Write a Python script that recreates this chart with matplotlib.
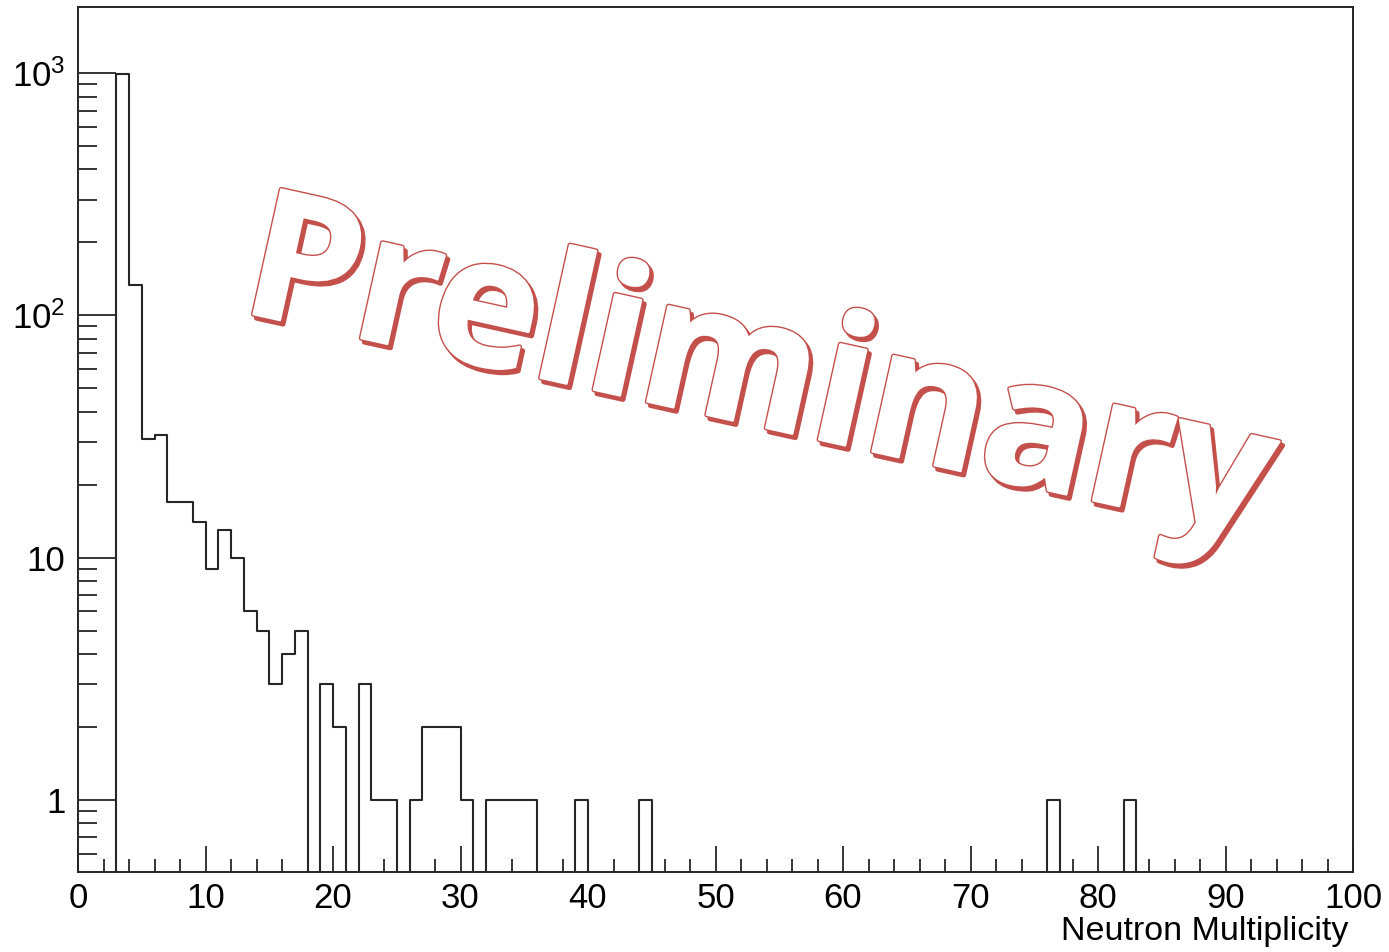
import numpy as np
import matplotlib
matplotlib.use("Agg")
import matplotlib.pyplot as plt
import matplotlib.patheffects as pe
from matplotlib.ticker import FixedLocator, NullFormatter

# neutron multiplicity histogram, unit-width bins 0..100
bin_edges = np.arange(0, 101)
counts = np.zeros(100)
filled_bins = [3, 4, 5, 6, 7, 8, 9, 10, 11, 12, 13, 14, 15, 16, 17,
               19, 20, 22, 23, 24, 26, 27, 28, 29, 30,
               32, 33, 34, 35, 39, 44, 76, 82]
filled_counts = [990, 133, 31, 32, 17, 17, 14, 9, 13, 10, 6, 5, 3, 4, 5,
                 3, 2, 3, 1, 1, 1, 2, 2, 2, 1,
                 1, 1, 1, 1, 1, 1, 1, 1]
counts[filled_bins] = filled_counts

x_major = [0, 10, 20, 30, 40, 50, 60, 70, 80, 90, 100]
x_labels = ["0", "10", "20", "30", "40", "50", "60", "70", "80", "90", "100"]
y_major = [1, 10, 100, 1000]
y_labels = ["1", "10", r"$\mathregular{10^{2}}$", r"$\mathregular{10^{3}}$"]

plt.rcParams["font.family"] = ["Liberation Sans", "DejaVu Sans"]
plt.rcParams["mathtext.fontset"] = "custom"
plt.rcParams["mathtext.rm"] = "Liberation Sans"

line_col = "#262626"
wm_col = "#c4504c"

fig = plt.figure(figsize=(13.89, 9.52), dpi=100)
ax = fig.add_axes([78 / 1389, 80 / 952, 1275 / 1389, 865 / 952])

# zero bins pushed below the visible range so the outline drops to the axis
step_y = np.where(counts > 0, counts, 1e-3)
ax.step(bin_edges, np.append(step_y, step_y[-1]), where="post",
        color=line_col, lw=1.5)

ax.set_yscale("log")
ax.set_xlim(0, 100)
ax.set_ylim(0.504, 1873)

ax.xaxis.set_major_locator(FixedLocator(x_major))
ax.xaxis.set_minor_locator(FixedLocator(np.arange(0, 101, 2)))
ax.set_xticklabels(x_labels)
ax.yaxis.set_major_locator(FixedLocator(y_major))
y_minor = [m * 10.0 ** d for d in range(-1, 4) for m in range(2, 10)]
ax.yaxis.set_minor_locator(FixedLocator(y_minor))
ax.set_yticklabels(y_labels)
ax.yaxis.set_minor_formatter(NullFormatter())

ax.tick_params(axis="x", which="major", direction="in", length=18.7, width=1.3,
               color=line_col, labelsize=25, pad=7, top=False)
ax.tick_params(axis="x", which="minor", direction="in", length=9.4, width=1.3,
               color=line_col, top=False)
ax.tick_params(axis="y", which="major", direction="in", length=27.4, width=1.3,
               color=line_col, labelsize=25, pad=9, right=False)
ax.tick_params(axis="y", which="minor", direction="in", length=13.7, width=1.3,
               color=line_col, right=False)
for sp in ax.spines.values():
    sp.set_color(line_col)
    sp.set_linewidth(1.4)

ax.set_xlabel("Neutron Multiplicity", fontsize=24.5, ha="right")
ax.xaxis.set_label_coords(0.996, -0.051)

# "Preliminary" stamp: white letters, thin red outline, red drop shadow
fig.text(758 / 1389, 1 - 378 / 952, "Preliminary", fontsize=129,
         family="Open Sans", fontweight="bold", color="white",
         rotation=-12.5, rotation_mode="anchor", ha="center", va="center",
         path_effects=[
             pe.withSimplePatchShadow(offset=(2.2, -2.8), shadow_rgbFace=wm_col,
                                      alpha=1.0, linewidth=3.6, foreground=wm_col,
                                      joinstyle="round"),
             pe.Stroke(linewidth=3.6, foreground=wm_col, joinstyle="round"),
             pe.Stroke(linewidth=1.6, foreground="white", joinstyle="round"),
             pe.Normal(),
         ])

fig.savefig("out.png", dpi=100)
